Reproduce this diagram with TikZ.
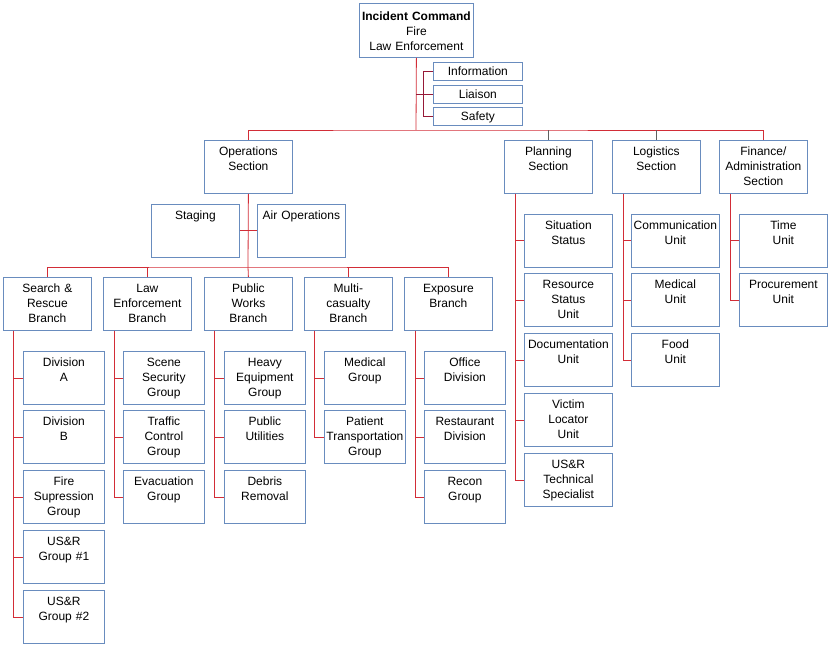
\documentclass[tikz,border=0pt]{standalone}
\usepackage{fontspec}
\setmainfont{Liberation Sans}
\usetikzlibrary{calc, positioning}
\definecolor{boxblue}{RGB}{105,140,190}
\definecolor{linkred}{RGB}{210,45,55}
\definecolor{staffred}{RGB}{150,25,55}
\definecolor{linkgray}{RGB}{95,95,95}

\begin{document}
\begin{tikzpicture}[
    x=1pt, y=-1pt,
    every node/.style={font=\fontsize{12}{15}\selectfont},
    unit/.style={draw=boxblue, line width=0.8pt, anchor=north west, inner xsep=1pt, inner ysep=0pt, align=center, text width=86pt, text height=15.5pt, text depth=37.5pt},
    small/.style={unit, text width=79pt},
    staff/.style={unit, text width=87pt, text height=13pt, text depth=5pt},
    link/.style={draw=linkred, line width=0.8pt},
    staffline/.style={draw=staffred, line width=0.8pt},
    drop/.style={draw=linkgray, line width=0.8pt}
]
\useasboundingbox (0,0) rectangle (830,647);

\node[unit, text width=112pt, text height=17.5pt, text depth=36.5pt] (ic) at (359,3) {\textbf{Incident Command}\\Fire\\Law Enforcement};
\node[staff] (info) at (433,62) {Information};
\node[staff] (liai) at (433,85) {Liaison};
\node[staff] (safe) at (433,107) {Safety};

\node[unit] (ops) at (204,140) {Operations\\Section};
\node[unit] (plan) at (504,140) {Planning\\Section};
\node[unit] (logi) at (612,140) {Logistics\\Section};
\node[unit] (fin) at (719,140) {Finance/\\Administration\\Section};

\node[unit] (stag) at (151,204) {Staging};
\node[unit] (air) at (257,204) {Air Operations};

\node[unit] (sr) at (3,277) {Search \&\\Rescue\\Branch};
\node[unit] (le) at (103,277) {Law\\Enforcement\\Branch};
\node[unit] (pw) at (204,277) {Public\\Works\\Branch};
\node[unit] (mc) at (304,277) {Multi-\\casualty\\Branch};
\node[unit] (ex) at (404,277) {Exposure\\Branch};

\node[small] (sr1) at (23,351) {Division\\A};
\node[small] (sr2) at (23,410) {Division\\B};
\node[small] (sr3) at (23,470) {Fire\\Supression\\Group};
\node[small] (sr4) at (23,530) {US\&R\\Group \#1};
\node[small] (sr5) at (23,590) {US\&R\\Group \#2};

\node[small] (le1) at (123,351) {Scene\\Security\\Group};
\node[small] (le2) at (123,410) {Traffic\\Control\\Group};
\node[small] (le3) at (123,470) {Evacuation\\Group};

\node[small] (pw1) at (224,351) {Heavy\\Equipment\\Group};
\node[small] (pw2) at (224,410) {Public\\Utilities};
\node[small] (pw3) at (224,470) {Debris\\Removal};

\node[small] (mc1) at (324,351) {Medical\\Group};
\node[small] (mc2) at (324,410) {Patient\\Transportation\\Group};

\node[small] (ex1) at (424,351) {Office\\Division};
\node[small] (ex2) at (424,410) {Restaurant\\Division};
\node[small] (ex3) at (424,470) {Recon\\Group};

\node[unit] (pl1) at (524,214) {Situation\\Status};
\node[unit] (pl2) at (524,273) {Resource\\Status\\Unit};
\node[unit] (pl3) at (524,333) {Documentation\\Unit};
\node[unit] (pl4) at (524,393) {Victim\\Locator\\Unit};
\node[unit] (pl5) at (524,453) {US\&R\\Technical\\Specialist};

\node[unit] (lo1) at (631,214) {Communication\\Unit};
\node[unit] (lo2) at (631,273) {Medical\\Unit};
\node[unit] (lo3) at (631,333) {Food\\Unit};

\node[unit] (fi1) at (739,214) {Time\\Unit};
\node[unit] (fi2) at (739,273) {Procurement\\Unit};

\coordinate (bus) at (416,130);
\coordinate (obus) at (248,267);

\draw[link] (ic.south) -- (bus);
\draw[staffline] (info.west) -- ++(-10,0) |- (safe.west);
\draw[staffline] (liai.west) -- (liai.west -| ic.south);
\draw[link] (ops.north) |- (bus) -| (fin.north);
\draw[drop] (plan.north) -- (plan.north |- bus);
\draw[drop] (logi.north) -- (logi.north |- bus);

\draw[link] (ops.south) -- (obus);
\draw[link] (stag.east) -- (air.west);
\draw[link] (sr.north) |- (obus) -| (ex.north);
\draw[link] (le.north) -- (le.north |- obus);
\draw[link] (pw.north) -- (obus);
\draw[link] (mc.north) -- (mc.north |- obus);

\draw[link] ([xshift=10pt]sr.south west) |- (sr1.west);
\draw[link] ([xshift=10pt]sr.south west) |- (sr2.west);
\draw[link] ([xshift=10pt]sr.south west) |- (sr3.west);
\draw[link] ([xshift=10pt]sr.south west) |- (sr4.west);
\draw[link] ([xshift=10pt]sr.south west) |- (sr5.west);

\draw[link] ([xshift=11pt]le.south west) |- (le1.west);
\draw[link] ([xshift=11pt]le.south west) |- (le2.west);
\draw[link] ([xshift=11pt]le.south west) |- (le3.west);

\draw[link] ([xshift=10pt]pw.south west) |- (pw1.west);
\draw[link] ([xshift=10pt]pw.south west) |- (pw2.west);
\draw[link] ([xshift=10pt]pw.south west) |- (pw3.west);

\draw[link] ([xshift=10pt]mc.south west) |- (mc1.west);
\draw[link] ([xshift=10pt]mc.south west) |- (mc2.west);

\draw[link] ([xshift=11pt]ex.south west) |- (ex1.west);
\draw[link] ([xshift=11pt]ex.south west) |- (ex2.west);
\draw[link] ([xshift=11pt]ex.south west) |- (ex3.west);

\draw[link] ([xshift=11pt]plan.south west) |- (pl1.west);
\draw[link] ([xshift=11pt]plan.south west) |- (pl2.west);
\draw[link] ([xshift=11pt]plan.south west) |- (pl3.west);
\draw[link] ([xshift=11pt]plan.south west) |- (pl4.west);
\draw[link] ([xshift=11pt]plan.south west) |- (pl5.west);

\draw[link] ([xshift=11pt]logi.south west) |- (lo1.west);
\draw[link] ([xshift=11pt]logi.south west) |- (lo2.west);
\draw[link] ([xshift=11pt]logi.south west) |- (lo3.west);

\draw[link] ([xshift=11pt]fin.south west) |- (fi1.west);
\draw[link] ([xshift=11pt]fin.south west) |- (fi2.west);
\end{tikzpicture}
\end{document}
